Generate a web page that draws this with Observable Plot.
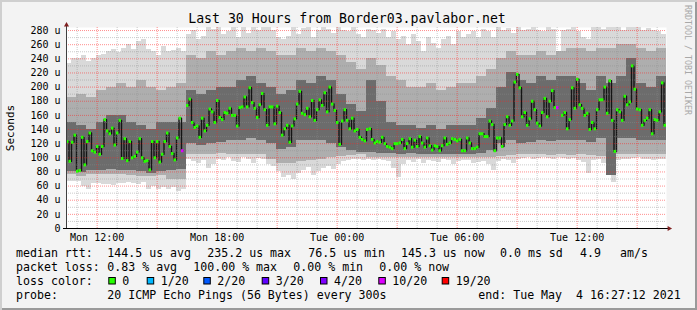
<!DOCTYPE html>
<html><head><meta charset="utf-8">
<script src="https://cdn.jsdelivr.net/npm/d3@7"></script>
<script src="https://cdn.jsdelivr.net/npm/@observablehq/plot@0.6"></script>
<style>
html,body{margin:0;padding:0;background:#f3f3f3;}
#wrap{position:relative;width:697px;height:310px;background:#f3f3f3;overflow:hidden;box-shadow:inset 2px 2px 0 #cfcfcf, inset -2px -2px 0 #9a9a9a;}
#chart{position:absolute;left:0;top:20px;}
#overlay{position:absolute;left:0;top:0;pointer-events:none;}
</style></head><body>
<div id="wrap"><div id="chart"></div><svg id="overlay" width="697" height="310"></svg></div>
<script>
// ---------- text ----------
const title = "Last 30 Hours from Border03.pavlabor.net";
const yLabel = "Seconds";
const sideText = "RRDTOOL / TOBI OETIKER";
const xTicks = [12, 18, 24, 30, 36];           // hours since Mon 00:00
const xLabels = ["Mon 12:00", "Mon 18:00", "Tue 00:00", "Tue 06:00", "Tue 12:00"];
const yTicks = [0, 20, 40, 60, 80, 100, 120, 140, 160, 180, 200, 220, 240, 260, 280];
const yMinor = [10, 30, 50, 70, 90, 110, 130, 150, 170, 190, 210, 230, 250, 270];
const xMajor = [12, 15, 18, 21, 24, 27, 30, 33, 36, 39];
const xMinor = [11, 13, 14, 16, 17, 19, 20, 22, 23, 25, 26, 28, 29, 31, 32, 34, 35, 37, 38, 40];

const legendLine1 = ["median rtt:", "144.5 us avg", "235.2 us max", "76.5 us min", "145.3 us now", "0.0 ms sd", "4.9", "am/s"];
const legendLine2 = ["packet loss:", "0.83 % avg", "100.00 % max", "0.00 % min", "0.00 % now"];
const legendLine3Head = "loss color:";
const lossLabels = ["0", "1/20", "2/20", "3/20", "4/20", "10/20", "19/20"];
const lossLevels = [0, 1, 2, 3, 4, 10, 19];
const lossColors = ["#26ff00", "#00b8ff", "#0059ff", "#5e00ff", "#7e00ff", "#dd00ff", "#ff0000"];
const legendLine4 = ["probe:", "20 ICMP Echo Pings (56 Bytes) every 300s", "end: Tue May  4 16:27:12 2021"];

// ---------- time bins ----------
const startHour = 10 + 28 / 60;   // Mon 10:28
const spanHours = 30;
const medianStep = 0.125;          // 7.5 min
const smokeStep = 0.25;            // 15 min
const coreStep = 0.5;              // 30 min

// median rtt per 7.5 min bin (u)
const median = [
123,95,122,132,81,82,129,90,123,135,110,108,116,105,116,154,138,134,142,118,
135,153,99,127,96,123,100,102,108,127,100,95,96,83,123,100,123,94,105,123,
135,116,106,97,128,156,110,null,174,183,150,143,145,129,156,138,146,169,165,150,
181,157,154,164,163,170,160,160,145,171,172,186,172,199,178,170,157,175,191,168,
146,172,172,148,173,164,132,141,146,122,145,155,176,194,163,161,170,158,181,153,
168,182,174,192,165,200,176,167,150,119,152,168,153,141,156,138,140,129,126,124,
140,141,126,121,123,122,129,120,116,115,113,120,120,121,126,113,120,127,115,125,
116,130,121,115,128,117,111,117,116,110,117,128,119,121,127,126,124,126,110,110,
128,121,113,113,115,134,134,130,130,152,147,110,128,128,116,147,158,146,152,207,
218,199,158,164,146,155,180,168,149,145,164,184,158,180,195,171,171,null,160,164,
141,154,199,170,211,175,170,160,163,140,150,141,168,182,182,200,163,209,153,109,
168,165,153,187,175,179,230,197,169,168,146,153,156,168,134,154,153,165,206,146];
// bins with packet loss (index into median) and lost pings out of 20
const lossIdx = [46, 196];
const lossVal = [10, 10];

// smoke envelope per 15 min bin (u)
const smokeHi = [
234,241,241,244,236,241,244,246,251,253,249,255,260,253,265,268,253,251,244,258,
250,252,255,250,275,280,268,272,285,282,285,275,278,284,270,285,276,285,280,284,
284,280,270,268,272,285,275,283,285,270,280,285,282,276,285,280,278,284,275,270,
282,280,276,282,270,278,268,272,260,275,265,250,270,262,255,268,272,260,278,270,
275,278,270,282,278,270,285,280,283,276,285,280,282,286,280,278,284,282,240,280,
282,285,278,270,268,284,285,282,286,284,285,280,286,285,284,280,283,280,278,275];
const smokeLo = [
67,67,66,60,55,64,63,62,62,61,63,64,65,64,62,65,55,60,55,58,
55,58,52,55,98,95,92,96,85,90,98,96,100,95,94,100,98,92,99,97,
90,88,80,72,75,70,78,82,86,75,80,85,88,84,90,95,96,98,97,96,
98,96,97,96,95,85,72,90,96,94,97,92,96,95,93,98,96,90,95,96,
96,92,94,95,90,82,95,97,96,92,98,99,100,98,99,100,99,98,100,99,
98,99,96,94,78,96,98,92,88,65,96,97,98,99,100,97,98,96,97,98];

// inner smoke bands per 30 min bin (u)
const midHi = [
185,190,185,195,200,205,200,210,200,195,200,205,245,240,250,245,250,255,250,255,
250,245,245,255,250,255,250,245,235,225,240,230,215,210,200,200,205,195,200,205,
205,215,225,240,250,245,245,250,245,250,255,255,250,255,255,260,260,255,250,255];
const midLo = [
76,74,76,76,77,76,75,74,73,75,70,70,105,105,104,106,105,104,104,104,
98,92,92,95,96,98,100,102,103,104,100,100,101,100,101,101,100,100,101,100,
100,101,101,102,103,104,104,104,103,104,103,104,103,102,90,104,104,104,104,105];
const coreHi = [
150,145,140,150,160,160,150,145,140,150,150,150,195,190,195,200,200,210,215,205,
200,190,195,210,205,215,210,190,175,165,210,180,150,145,145,142,145,140,145,145,
145,155,170,200,220,210,205,215,210,215,215,205,195,215,205,215,240,205,200,215];
const coreLo = [
80,79,82,82,84,82,82,80,78,80,82,84,120,118,120,122,125,125,128,125,
120,112,115,125,125,125,120,115,110,108,108,106,106,105,106,105,104,104,105,104,
104,106,110,120,125,120,122,125,123,125,125,125,122,128,75,128,128,125,124,125];

// ---------- tables ----------
const smoke = smokeHi.map((hi, j) => ({t0: startHour + j * smokeStep, t1: startHour + (j + 1) * smokeStep, lo: smokeLo[j], hi}));
const inner = midHi.map((hi, k) => ({t0: startHour + k * coreStep, t1: startHour + (k + 1) * coreStep, q1: midLo[k], q3: hi, c1: coreLo[k], c2: coreHi[k]}));
const lossOf = new Map(lossIdx.map((b, k) => [b, lossVal[k]]));
const colorOf = new Map(lossLevels.map((l, k) => [l, lossColors[k]]));
const medAll = median.map((v, i) => ({t0: startHour + i * medianStep, t1: startHour + (i + 1) * medianStep, tm: startHour + (i + 0.5) * medianStep, v, loss: lossOf.get(i) ?? 0}));
const meds = medAll.filter(d => d.v != null);

const yMax = 284.3;
const xEnd = startHour + spanHours;
const mono = "'DejaVu Sans Mono', monospace";

const plot = Plot.plot({
  width: 697, height: 225,
  marginLeft: 66, marginRight: 31, marginTop: 7, marginBottom: 17,
  style: {background: "transparent", fontFamily: mono, fontSize: "10px", color: "#000", overflow: "visible"},
  x: {domain: [startHour, xEnd], ticks: xTicks, tickFormat: d => xLabels[xTicks.indexOf(d)], tickSize: 0, tickPadding: 5, label: null},
  y: {domain: [0, yMax], ticks: yTicks, tickFormat: d => d === 0 ? "0" : d + " u", tickSize: 0, tickPadding: 6, label: null},
  marks: [
    Plot.frame({fill: "#ffffff", stroke: null}),
    Plot.rect(smoke, {x1: "t0", x2: "t1", y1: "lo", y2: "hi", fill: "#d9d9d9", inset: 0, clip: true, shapeRendering: "crispEdges"}),
    Plot.rect(inner, {x1: "t0", x2: "t1", y1: "q1", y2: "q3", fill: "#aeaeae", inset: 0, clip: true, shapeRendering: "crispEdges"}),
    Plot.rect(inner, {x1: "t0", x2: "t1", y1: "c1", y2: "c2", fill: "#6c6c6c", inset: 0, clip: true, shapeRendering: "crispEdges"}),
    Plot.line(medAll, {x: "tm", y: "v", curve: "step", stroke: "#141414", strokeWidth: 1.4, defined: d => d.v != null}),
    Plot.ruleX(xMinor, {stroke: "#8c8c8c", strokeOpacity: 0.45, strokeDasharray: "1,1"}),
    Plot.ruleY(yMinor, {stroke: "#8c8c8c", strokeOpacity: 0.45, strokeDasharray: "1,1"}),
    Plot.ruleX(xMajor, {stroke: "#ff2020", strokeOpacity: 0.5, strokeDasharray: "1,1"}),
    Plot.ruleY(yTicks.filter(d => d > 0), {stroke: "#ff2020", strokeOpacity: 0.5, strokeDasharray: "1,1"}),
    Plot.ruleY(meds, {x1: "t0", x2: "t1", y: "v", stroke: d => colorOf.get(d.loss), strokeWidth: 3}),
    // axes with arrows
    Plot.ruleX([startHour], {y1: 0, y2: yMax + 4, stroke: "#404040"}),
    Plot.ruleY([0], {x1: startHour - 0.15, x2: xEnd + 0.2, stroke: "#000"}),
    Plot.dot([{x: startHour, y: yMax + 3.5}], {x: "x", y: "y", symbol: "triangle", r: 1.9, fill: "#7f1f1f", stroke: null}),
    Plot.dot([{x: xEnd + 0.13, y: 0}], {x: "x", y: "y", symbol: "triangle", r: 1.9, rotate: 90, fill: "#7f1f1f", stroke: null})
  ]
});
document.getElementById("chart").appendChild(plot);

// ---------- overlay texts ----------
const svg = d3.select("#overlay");
svg.append("text").attr("x", 347).attr("y", 23).attr("text-anchor", "middle")
  .attr("font-family", mono).attr("font-size", 13.2).text(title);
svg.append("text").attr("transform", "translate(14,128) rotate(-90)").attr("text-anchor", "middle")
  .attr("font-family", mono).attr("font-size", 11).text(yLabel);
svg.append("text").attr("transform", "translate(685,5) rotate(90)").attr("text-anchor", "start")
  .attr("font-family", mono).attr("font-size", 8.3).attr("fill", "#a8a8a8").text(sideText);

const lx1 = [16, 107.3, 207.3, 308.3, 401, 500, 580, 620];
const lx2 = [16, 107.3, 193.3, 293.3, 379.3];
const lx4 = [16, 107.3, 478.3];
const boxX = [108.3, 146.7, 203.3, 261.7, 320, 378.3, 441.7];
const fs = 11.6;
function line(items, xs, y) {
  items.forEach((t, i) => svg.append("text").attr("x", xs[i]).attr("y", y)
    .attr("font-family", mono).attr("font-size", fs).style("white-space", "pre").text(t));
}
line(legendLine1, lx1, 257);
line(legendLine2, lx2, 271);
line([legendLine3Head], [16], 285);
lossLabels.forEach((t, i) => {
  svg.append("rect").attr("x", boxX[i] + 0.5).attr("y", 277.5).attr("width", 6.5).attr("height", 6.5)
    .attr("fill", lossColors[i]).attr("stroke", "#000").attr("stroke-width", 1);
  svg.append("text").attr("x", boxX[i] + 14).attr("y", 285).attr("font-family", mono).attr("font-size", fs).text(t);
});
line(legendLine4, lx4, 299);
</script>
</body></html>
